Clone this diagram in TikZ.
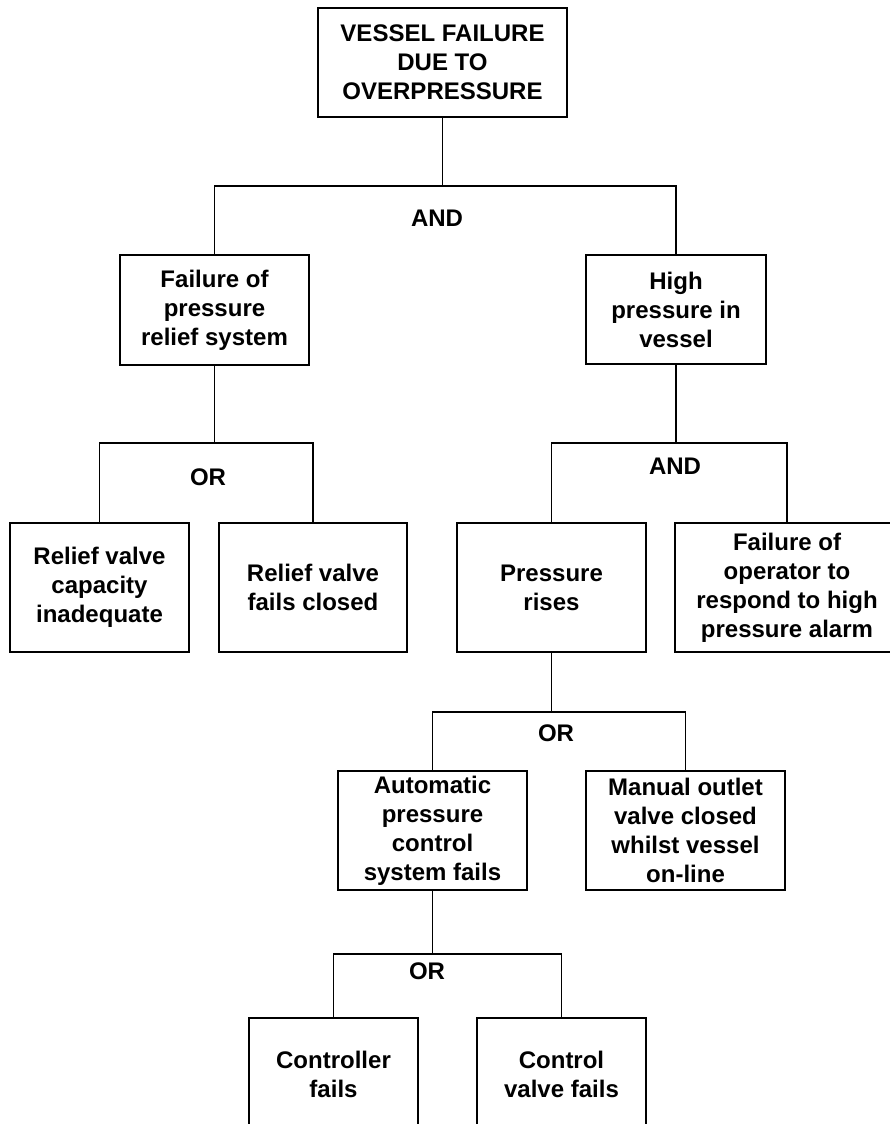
\documentclass[tikz,border=0pt]{standalone}
\usepackage{fontspec}
\setmainfont{Liberation Sans}
\begin{document}
\begin{tikzpicture}[x=1pt,y=-1pt,
  box/.style={draw, line width=1.8pt, inner sep=0pt, align=center,
    font=\fontsize{24}{29}\selectfont\bfseries},
  gatelabel/.style={inner sep=0pt, font=\fontsize{24}{29}\selectfont\bfseries},
  wire/.style={line width=1.8pt}]
\useasboundingbox (0,0) rectangle (890,1124);
\clip (0,0) rectangle (890,1124);
% events
\node[box, minimum width=249pt, minimum height=109pt] (top) at (442.5,62.5) {VESSEL FAILURE\\DUE TO\\OVERPRESSURE};
\node[box, minimum width=189pt, minimum height=110pt] (fprs) at (214.5,310) {Failure of\\pressure\\relief system};
\node[box, minimum width=180pt, minimum height=109pt] (high) at (676,309.5) {High\\pressure in\\vessel};
\node[box, minimum width=179pt, minimum height=129pt] (rvci) at (99.5,587.5) {Relief valve\\capacity\\inadequate};
\node[box, minimum width=188pt, minimum height=129pt] (rvfc) at (313,587.5) {Relief valve\\fails closed};
\node[box, minimum width=189pt, minimum height=129pt] (pr) at (551.5,587.5) {Pressure\\rises};
\node[box, minimum width=224pt, minimum height=129pt] (fop) at (787,587.5) {Failure of\\operator to\\respond to high\\pressure alarm};
\node[box, minimum width=189pt, minimum height=119pt] (auto) at (432.5,830.5) {Automatic\\pressure\\control\\system fails};
\node[box, minimum width=199pt, minimum height=119pt] (manual) at (685.5,830.5) {Manual outlet\\valve closed\\whilst vessel\\on-line};
\node[box, minimum width=169pt, minimum height=112pt] (ctrl) at (333.5,1074) {Controller\\fails};
\node[box, minimum width=169pt, minimum height=112pt] (cvf) at (561.5,1074) {Control\\valve fails};
% gate labels
\node[gatelabel] (g1l) at (437,218) {AND};
\node[gatelabel] (g2l) at (208,477) {OR};
\node[gatelabel] (g3l) at (675,466) {AND};
\node[gatelabel] (g4l) at (556,733) {OR};
\node[gatelabel] (g5l) at (427,971) {OR};
% gate bars
\coordinate (g1) at (442.5,186);
\coordinate (g2) at (214.5,443);
\coordinate (g3) at (676,443);
\coordinate (g4) at (551.5,712);
\coordinate (g5) at (432.5,954);
\draw[wire] (top.south) -- (g1);
\draw[wire] (fprs.north) |- (g1) -| (high.north);
\draw[wire] (fprs.south) -- (g2);
\draw[wire] (rvci.north) |- (g2) -| (rvfc.north);
\draw[wire] (high.south) -- (g3);
\draw[wire] (pr.north) |- (g3) -| (fop.north);
\draw[wire] (pr.south) -- (g4);
\draw[wire] (auto.north) |- (g4) -| (manual.north);
\draw[wire] (auto.south) -- (g5);
\draw[wire] (ctrl.north) |- (g5) -| (cvf.north);
\end{tikzpicture}
\end{document}
